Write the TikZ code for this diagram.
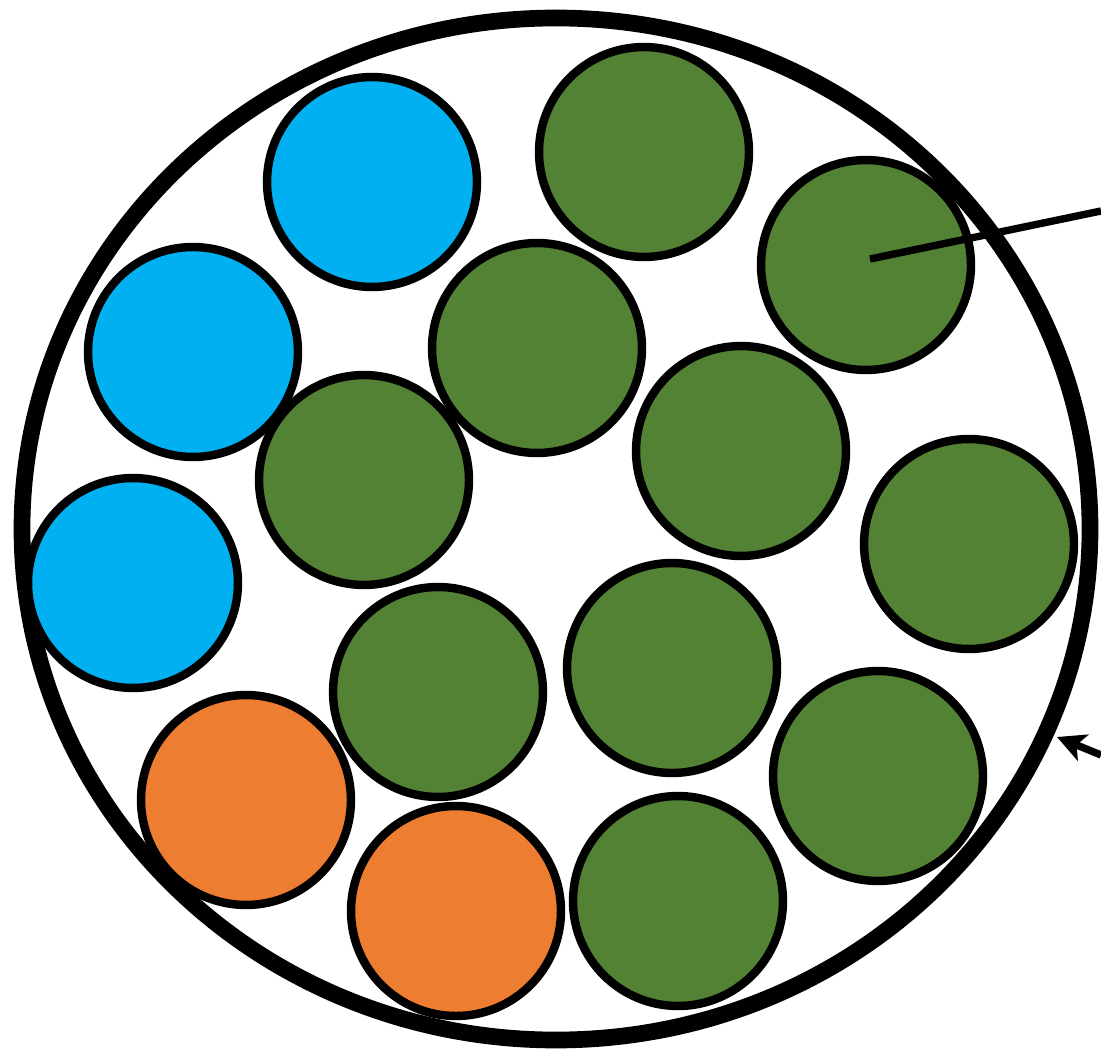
\documentclass[tikz,border=0pt]{standalone}
\usetikzlibrary{arrows.meta}
\definecolor{cblue}{HTML}{00B0F0}
\definecolor{cgreen}{HTML}{548235}
\definecolor{corange}{HTML}{ED7D31}
\begin{document}
\begin{tikzpicture}[x=0.02cm,y=-0.02cm,
  ball/.style={circle,draw=black,line width=4.8pt,inner sep=0pt,minimum size=4.2cm},
  bb/.style={ball,fill=cblue},
  bg/.style={ball,fill=cgreen},
  bo/.style={ball,fill=corange}]
\useasboundingbox (0,0) rectangle (1101,1053);
\draw[line width=9.5pt] (556,529) ellipse [x radius=534, y radius=511];
\node[bb] (b1) at (372,182) {};
\node[bg] (g1) at (644,152) {};
\node[bg] (g2) at (866,265) {};
\node[bb] (b2) at (193,352) {};
\node[bg] (g3) at (537,348) {};
\node[bg] (g4) at (364,480) {};
\node[bg] (g5) at (741,451) {};
\node[bg] (g6) at (969,544) {};
\node[bb] (b3) at (133,583) {};
\node[bo] (o1) at (246,800) {};
\node[bo] (o2) at (456,911) {};
\node[bg] (g7) at (438,692) {};
\node[bg] (g8) at (672,668) {};
\node[bg] (g9) at (878,776) {};
\node[bg] (g10) at (678,901) {};
\coordinate (lstart) at (870,259);
\coordinate (lend) at (1101,211);
\draw[line width=4.2pt] (lstart) -- (lend);
\coordinate (astart) at (1101,755);
\coordinate (aend) at (1057,737);
\draw[line width=4.2pt,-{Stealth[length=16pt,width=16pt,inset=4pt]}] (astart) -- (aend);
\end{tikzpicture}
\end{document}
